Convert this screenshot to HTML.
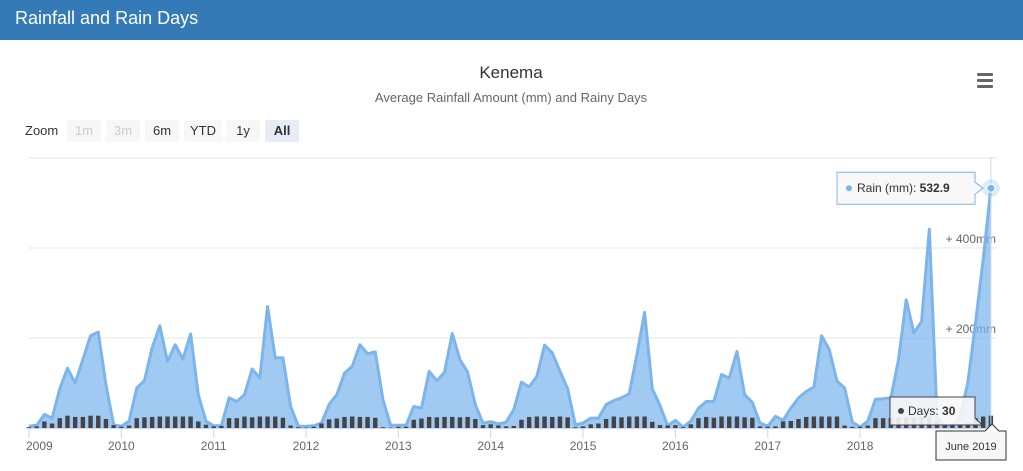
<!DOCTYPE html>
<html><head><meta charset="utf-8"><style>
body{margin:0;width:1023px;height:471px;overflow:hidden;background:#fff;font-family:"Liberation Sans",sans-serif;}
#hdr{position:absolute;left:0;top:0;width:1023px;height:40px;background:#337ab7;}
#hdr span{position:absolute;left:15px;top:8px;color:#fff;font-size:18px;}
svg{position:absolute;left:0;top:40px;}
</style></head><body>
<div id="hdr"><span>Rainfall and Rain Days</span></div>
<svg id="chart" width="1023" height="431"></svg>
<script>
const startYear = 2009;
const rain = [
4,6,30,22,87,133,100,152,205,213,96,7,
4,15,89,105,178,227,148,185,153,209,74,15,
5,5,67,59,74,131,111,270,156,156,48,4,
4,5,11,52,74,122,137,185,165,169,63,6,
6,6,48,44,126,105,124,210,152,124,52,11,
14,9,13,41,102,91,115,184,167,126,87,7,
11,22,22,52,61,67,76,163,257,87,50,5,
17,2,15,44,59,59,119,111,170,74,57,11,
4,26,17,44,67,81,91,205,174,104,89,13,
2,15,64,65,67,152,285,211,237,442,26,4,
4,26,100,233,374,532.9];
const days = [
2,4,16,11,24,30,27,27,30,30,22,7,
3,6,24,26,27,28,28,28,28,28,16,8,
4,5,24,24,28,26,28,28,28,25,6,2,
1,3,11,21,23,27,28,27,27,25,2,1,
3,3,20,23,27,26,27,27,26,27,22,7,
9,6,4,5,20,27,28,28,27,28,26,2,
4,9,11,22,28,26,28,28,28,15,7,6,
7,2,9,24,27,25,28,28,28,26,25,4,
3,4,16,17,22,27,28,28,28,28,6,3,
3,6,24,24,24,26,26,26,26,26,16,7,
7,9,12,24,28,30];
const yTicks = [200,400,600];
const yearLabels = ["2009","2010","2011","2012","2013","2014","2015","2016","2017","2018"];
const NS="http://www.w3.org/2000/svg", svg=document.getElementById('chart');
const OY=40, base=428-OY;
const xOf=i=>29+i*7.695;
const yR=v=>base-v*0.45;
const yD=v=>base-v*0.41;
function mk(t,a,p){const e=document.createElementNS(NS,t);for(const k in a)e.setAttribute(k,a[k]);(p||svg).appendChild(e);return e;}
let t=mk('text',{x:511,y:38,'text-anchor':'middle','font-size':17,fill:'#333'});t.textContent='Kenema';


t=mk('text',{x:511,y:62,'text-anchor':'middle','font-size':13,fill:'#666'});t.textContent='Average Rainfall Amount (mm) and Rainy Days';


let g=mk('g',{});


[33,39,45].forEach(y=>mk('rect',{x:977,y:y,width:16,height:3,rx:1,fill:'#666'},g));
t=mk('text',{x:25,y:95,'font-size':13,fill:'#333'});t.textContent='Zoom';
const btns=[['1m',67,34,0],['3m',106,34,0],['6m',145,34,1],['YTD',184,38,1],['1y',226,34,1],['All',265,34,2]];
btns.forEach(b=>{const gg=mk('g',{});


mk('rect',{x:b[1],y:80,width:b[2],height:22,rx:2,fill:b[3]==2?'#e6ebf5':'#f7f7f7'},gg);
const tx=mk('text',{x:b[1]+b[2]/2,y:95,'text-anchor':'middle','font-size':13,fill:b[3]==0?'#ccc':'#333','font-weight':b[3]==2?'bold':'normal'},gg);tx.textContent=b[0];});
yTicks.forEach(v=>{mk('line',{x1:29,x2:997,y1:yR(v),y2:yR(v),stroke:'#e6e6e6'});
if(v<600){const l=mk('text',{x:996,y:yR(v)-5,'text-anchor':'end','font-size':12,fill:'#666'});l.textContent='+ '+v+'mm';

}});
let d='M'+xOf(0)+','+base;rain.forEach((v,i)=>d+='L'+xOf(i)+','+yR(v));d+='L'+xOf(rain.length-1)+','+base+'Z';
let a=mk('path',{d:d,fill:'#7cb5ec','fill-opacity':0.72});


let ld='';rain.forEach((v,i)=>ld+=(i?'L':'M')+xOf(i)+','+yR(v));
a=mk('path',{d:ld,fill:'none',stroke:'#7cb5ec','stroke-width':3,'stroke-linejoin':'round'});


days.forEach((v,i)=>{const r=mk('rect',{x:xOf(i)-2.2,y:yD(v),width:4.4,height:base-yD(v),fill:'#434348'});

});
mk('line',{x1:26,x2:997,y1:base+0.5,y2:base+0.5,stroke:'#ccd6eb'});
yearLabels.forEach((y,k)=>{const x=xOf(k*12);mk('line',{x1:x,x2:x,y1:base,y2:base+10,stroke:'#ccd6eb'});
const l=mk('text',{x:k==0?26:x,y:base+22,'text-anchor':k==0?'start':'middle','font-size':12,fill:'#666'});l.textContent=y;

});
const li=rain.length-1, lx=xOf(li);
mk('line',{x1:lx,x2:lx,y1:117,y2:base,stroke:'#ccd6eb'});
mk('circle',{cx:lx,cy:yR(rain[li]),r:9,fill:'#7cb5ec','fill-opacity':0.25});
mk('circle',{cx:lx,cy:yR(rain[li]),r:4,fill:'#7cb5ec',stroke:'#fff'});
g=mk('g',{});


let ty=yR(rain[li]);
mk('path',{d:`M837,${ty-16}H975V${ty-6}L983,${ty}L975,${ty+6}V${ty+16}H837Z`,fill:'#f7f7f7','fill-opacity':0.9,stroke:'#7cb5ec'},g);
mk('circle',{cx:849,cy:ty,r:3,fill:'#7cb5ec'},g);
t=mk('text',{x:857,y:ty+4,'font-size':12,fill:'#333'},g);t.innerHTML='Rain (mm): <tspan font-weight="bold">'+rain[li]+'</tspan>';
g=mk('g',{});


mk('path',{d:`M890,357H975V378L982,385L975,385H890Z`,fill:'#f7f7f7','fill-opacity':0.9,stroke:'#434348'},g);
mk('circle',{cx:901,cy:371,r:3,fill:'#434348'},g);
t=mk('text',{x:908,y:375,'font-size':12,fill:'#333'},g);t.innerHTML='Days: <tspan font-weight="bold">'+days[li]+'</tspan>';
g=mk('g',{});


mk('path',{d:`M936,391H985L992,384L999,391H1006V420H936Z`,fill:'#f7f7f7',stroke:'#333'},g);
t=mk('text',{x:971,y:410,'text-anchor':'middle','font-size':11,fill:'#333'},g);t.textContent='June 2019';
</script>
</body></html>
